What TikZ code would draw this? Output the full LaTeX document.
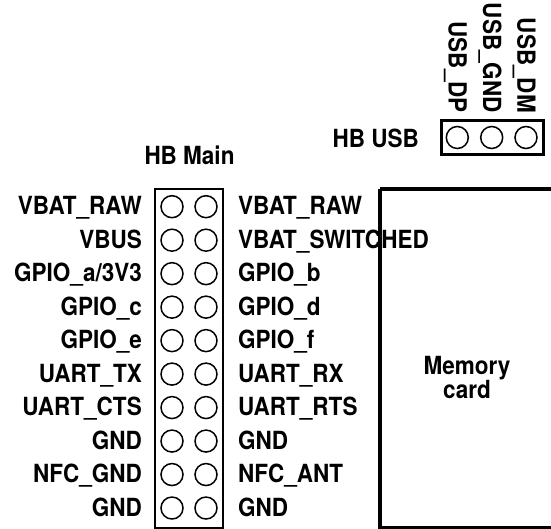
\documentclass[tikz,border=0pt]{standalone}
\usepackage{fontspec}
\setmainfont[FakeStretch=0.9]{TeX Gyre Heros}
\begin{document}
\begin{tikzpicture}[x=1pt,y=-1pt,
  lbl/.style={inner sep=0pt,font=\fontsize{25}{24}\selectfont\bfseries},
  pin/.style={draw,line width=1.5pt,circle,minimum size=22pt,inner sep=0pt}]
\useasboundingbox (0,0) rectangle (551,529);
% HB Main header
\node[lbl,anchor=base] (mainT) at (189.5,165) {HB Main};
\draw[line width=2pt] (155,189) rectangle (223,528);
\foreach \i/\l/\r in {0/VBAT\_RAW/VBAT\_RAW,1/VBUS/VBAT\_SWITCHED,2/GPIO\_a\slash 3V3/GPIO\_b,3/GPIO\_c/GPIO\_d,4/GPIO\_e/GPIO\_f,5/UART\_TX/UART\_RX,6/UART\_CTS/UART\_RTS,7/GND/GND,8/NFC\_GND/NFC\_ANT,9/GND/GND}{
  \pgfmathsetmacro{\yy}{206.7+33.48*\i}
  \node[pin] (pl\i) at (172,\yy) {};
  \node[pin] (pr\i) at (206,\yy) {};
  \node[lbl,anchor=base east] (ll\i) at (142,\yy+8.3) {\l};
  \node[lbl,anchor=base west] (lr\i) at (238,\yy+8.3) {\r};
}
% HB USB header
\node[lbl,anchor=base east] (usbT) at (419,147.5) {HB USB};
\draw[line width=3pt] (441,121) rectangle (543,155);
\foreach \x/\t [count=\k] in {457.3/USB\_DP,491.7/USB\_GND,526/USB\_DM}{
  \node[pin] (u\k) at (\x,137.5) {};
  \node[lbl,rotate=-90,anchor=base east] (ut\k) at (\x-8.7,113) {\t};
}
% Memory card
\draw[line width=4pt] (380,189) -- (556,189) (380,189) -- (380,527.5) -- (556,527.5);
\node[lbl,align=center] (mem) at (467,377) {Memory\\card};
\end{tikzpicture}
\end{document}
